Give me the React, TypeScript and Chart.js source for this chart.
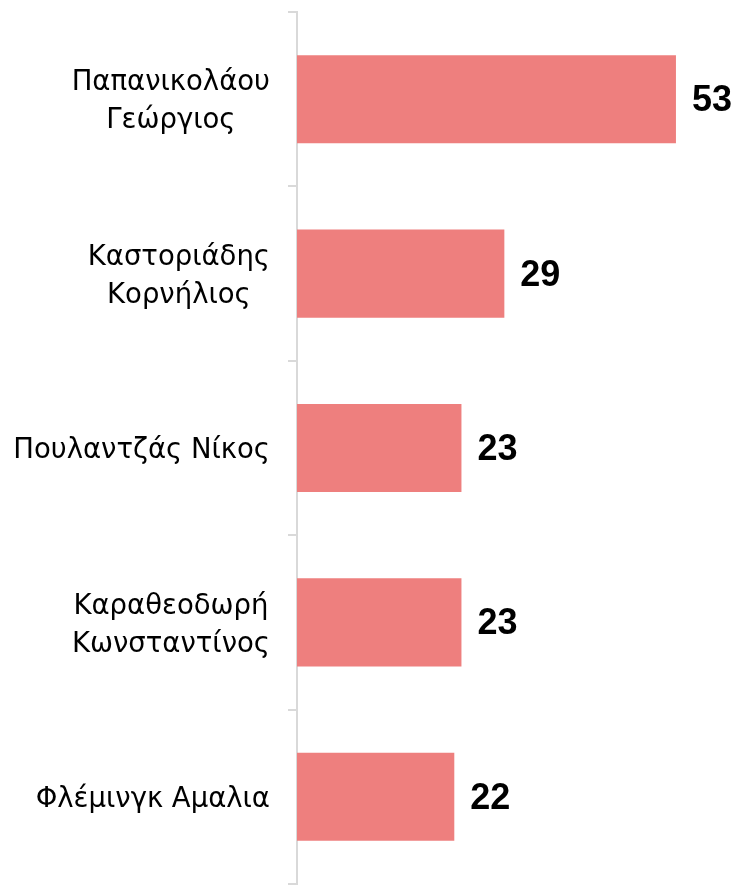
import React, { useEffect, useRef } from "react";
import { Chart, registerables } from "chart.js";

Chart.register(...registerables);

const categories: (string | string[])[] = [
  ["Παπανικολάου", "Γεώργιος"],
  ["Καστοριάδης", "Κορνήλιος"],
  "Πουλαντζάς Νίκος",
  ["Καραθεοδωρή", "Κωνσταντίνος"],
  "Φλέμινγκ Αμαλια",
];
const values: number[] = [53, 29, 23, 23, 22];
const barColor = "#EE7F7E";

const LABEL_FONT = "27.5px 'DejaVu Sans', sans-serif";
const LINE_GAP = 38;

// Category labels: block right-aligned to the axis, lines centred inside the block
const categoryLabels = {
  id: "categoryLabels",
  afterDraw(chart: any) {
    const ctx = chart.ctx;
    const yScale = chart.scales.y;
    const rightEdge = yScale.right - 9 - 18;
    ctx.save();
    ctx.font = LABEL_FONT;
    ctx.fillStyle = "#000000";
    ctx.textAlign = "center";
    ctx.textBaseline = "middle";
    categories.forEach((cat, i) => {
      const lines = Array.isArray(cat) ? cat : [cat];
      const blockW = Math.max(...lines.map((l) => ctx.measureText(l).width));
      const cx = rightEdge - blockW / 2;
      const cy = yScale.getPixelForValue(i) + 3;
      const startY = cy - ((lines.length - 1) * LINE_GAP) / 2;
      lines.forEach((l, j) => ctx.fillText(l, cx, startY + j * LINE_GAP));
    });
    ctx.restore();
  },
};

const valueLabels = {
  id: "valueLabels",
  afterDatasetsDraw(chart: any) {
    const ctx = chart.ctx;
    const meta = chart.getDatasetMeta(0);
    ctx.save();
    ctx.font = "bold 36px 'Liberation Sans', Arial, sans-serif";
    ctx.fillStyle = "#000000";
    ctx.textAlign = "left";
    ctx.textBaseline = "middle";
    meta.data.forEach((bar: any, i: number) => {
      ctx.fillText(String(values[i]), bar.x + 16, bar.y + 2);
    });
    ctx.restore();
  },
};

export default function App() {
  const ref = useRef<HTMLCanvasElement | null>(null);
  useEffect(() => {
    if (!ref.current) return;
    const chart = new Chart(ref.current, {
      type: "bar",
      data: {
        labels: categories,
        datasets: [
          {
            data: values,
            backgroundColor: barColor,
            borderWidth: 0,
            barPercentage: 0.505,
            categoryPercentage: 1,
          },
        ],
      },
      options: {
        indexAxis: "y",
        animation: false,
        responsive: true,
        maintainAspectRatio: false,
        layout: { padding: { top: 12, bottom: 3, right: 29, left: 0 } },
        plugins: { legend: { display: false }, tooltip: { enabled: false } },
        scales: {
          x: { display: false, min: 0, max: 60 },
          y: {
            afterFit: (scale: any) => {
              scale.width = 297;
              scale.paddingTop = 0;
              scale.paddingBottom = 0;
            },
            border: { display: true, color: "#d9d9d9", width: 2 },
            grid: {
              display: true,
              drawOnChartArea: false,
              drawTicks: true,
              tickLength: 9,
              color: "#d9d9d9",
              lineWidth: 2,
              offset: true,
            },
            ticks: { display: false },
          },
        },
      },
      plugins: [valueLabels, categoryLabels],
    });
    return () => chart.destroy();
  }, []);
  return (
    <div style={{ position: "fixed", top: 0, left: 0, width: 755, height: 887, background: "#fff" }}>
      <canvas ref={ref} />
    </div>
  );
}
